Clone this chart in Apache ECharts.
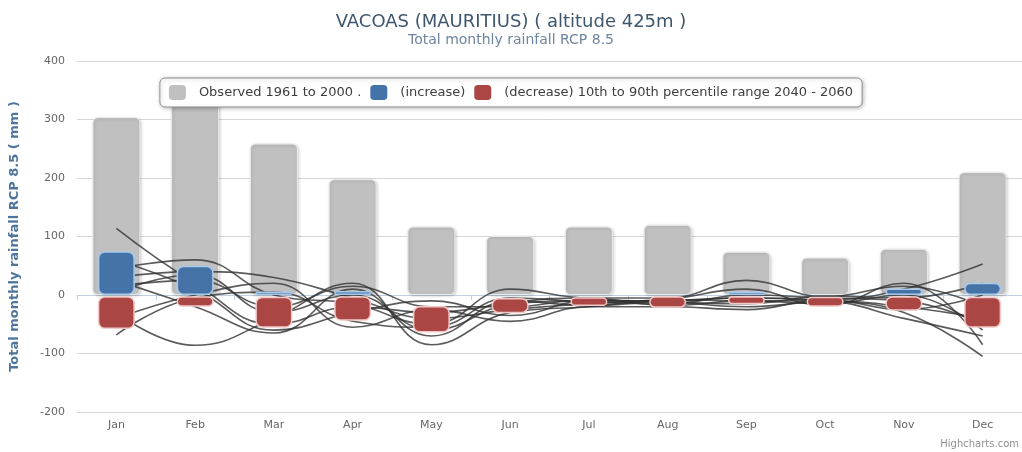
<!DOCTYPE html>
<html>
<head>
<meta charset="utf-8">
<script src="https://cdn.jsdelivr.net/npm/echarts@6/dist/echarts.min.js"></script>
<style>html,body{margin:0;padding:0;background:#fff}#c{width:1022px;height:452px}</style>
</head>
<body>
<div id="c"></div>
<script>
var months = ['Jan','Feb','Mar','Apr','May','Jun','Jul','Aug','Sep','Oct','Nov','Dec'];
var observed = [304, 335, 259, 198, 117, 101, 117, 120, 74, 64, 79, 210];
var incLow  = [0, 0, 0, 0, null, null, null, null, 0, null, 0, 0];
var incHigh = [75, 50, 6, 7, null, null, null, null, 6, null, 11, 21];
var decHigh = [-2, -2, -3, -2, -19, -5, -4, -2, -2, -3, -2, -3];
var decLow  = [-58, -20, -56, -44, -64, -31, -19, -22, -16, -20, -27, -56];
var yTicks = [-200, -100, 0, 100, 200, 300, 400];

var model1  = [114, 20, -50, -20, -30, -15, -10, -10, -5, -10, -30, -105];
var model2  = [-68, -5, 5, -45, -55, -5, -12, -15, 0, -5, -10, -50];
var model3  = [-30, -86, -40, 20, -85, -30, -20, -8, -10, -10, -20, -40];
var model4  = [45, 60, 0, -15, -50, 10, -5, -5, 25, -3, 15, -20];
var model5  = [30, 40, 30, -5, -40, -25, -15, -10, -5, -8, 10, 53];
var model6  = [15, 25, -20, 15, -20, -20, -8, -12, -15, -2, -5, 20];
var model7  = [60, 10, -60, -30, -10, -35, -10, -12, -20, -12, -40, -70];
var model8  = [5, 35, -30, 0, -60, -15, -5, -18, -10, -15, 0, -60];
var model9  = [-40, 0, 20, -55, -25, -45, -20, -20, -25, -8, -25, 0];
var model10 = [25, -20, -65, 10, -70, -10, -18, -8, 10, -18, 20, -85];
var models = [model1, model2, model3, model4, model5, model6, model7, model8, model9, model10];

var FONT = 'DejaVu Sans';
var incBase = incLow.map(function(v){ return v == null ? '-' : v; });
var incRange = incHigh.map(function(v, i){ return v == null ? '-' : v - incLow[i]; });
var decBase = decHigh.slice();
var decRange = decLow.map(function(v, i){ return v - decHigh[i]; });

var series = [
  {
    name: 'Observed 1961 to 2000 .', type: 'bar', xAxisIndex: 0, barWidth: 48, z: 1,
    data: observed,
    itemStyle: { color: '#C0C0C0', borderColor: '#ececec', borderWidth: 1, borderRadius: 5,
      shadowColor: 'rgba(0,0,0,0.18)', shadowBlur: 3, shadowOffsetX: 1, shadowOffsetY: 1 }
  }
];
models.forEach(function(m){
  series.push({
    type: 'line', xAxisIndex: 0, data: m, smooth: 0.45, showSymbol: false, symbol: 'none', z: 2,
    lineStyle: { color: 'rgba(50,50,50,0.8)', width: 1.6 }, silent: true
  });
});
series.push(
  { name: 'incBase', type: 'bar', xAxisIndex: 1, stack: 'inc', barWidth: 37, barGap: '-100%', z: 3,
    data: incBase, itemStyle: { color: 'rgba(0,0,0,0)' } },
  { name: '(increase)', type: 'bar', xAxisIndex: 1, stack: 'inc', barWidth: 37, barGap: '-100%', z: 3,
    data: incRange, itemStyle: { color: '#4572A7', borderColor: '#a9c9ea', borderWidth: 1.5, borderRadius: 6 } },
  { name: 'decBase', type: 'bar', xAxisIndex: 1, stack: 'dec', barWidth: 37, barGap: '-100%', z: 3,
    data: decBase, itemStyle: { color: 'rgba(0,0,0,0)' } },
  { name: '(decrease) 10th to 90th percentile range 2040 - 2060', type: 'bar', xAxisIndex: 1, stack: 'dec', barWidth: 37, barGap: '-100%', z: 3,
    data: decRange, itemStyle: { color: '#AA4643', borderColor: '#f2c9c8', borderWidth: 1.5, borderRadius: 6 } }
);

var chart = echarts.init(document.getElementById('c'), null, { renderer: 'canvas' });
chart.setOption({
  animation: false,
  backgroundColor: '#ffffff',
  textStyle: { fontFamily: FONT },
  title: {
    text: 'VACOAS (MAURITIUS) ( altitude 425m )',
    subtext: 'Total monthly rainfall RCP 8.5',
    left: 'center', top: 8, itemGap: 2,
    textStyle: { color: '#3E576F', fontSize: 18, fontWeight: 'normal', fontFamily: FONT },
    subtextStyle: { color: '#6D869F', fontSize: 14, fontFamily: FONT }
  },
  legend: {
    data: [
      { name: 'Observed 1961 to 2000 .', itemStyle: { color: '#C0C0C0', borderWidth: 0 } },
      { name: '(increase)', itemStyle: { color: '#4572A7', borderWidth: 0 } },
      { name: '(decrease) 10th to 90th percentile range 2040 - 2060', itemStyle: { color: '#AA4643', borderWidth: 0 } }
    ],
    left: 'center', top: 78, itemWidth: 17, itemHeight: 15, itemGap: 9,
    padding: [7, 9, 7, 9],
    backgroundColor: '#ffffff', borderColor: '#909090', borderWidth: 1, borderRadius: 5,
    shadowColor: 'rgba(0,0,0,0.25)', shadowBlur: 4, shadowOffsetX: 1, shadowOffsetY: 1,
    icon: 'roundRect',
    textStyle: { color: '#3d3d3d', fontSize: 13, fontFamily: FONT, padding: [0, 0, 0, 8] }
  },
  grid: { left: 73, top: 61, width: 950, height: 351, containLabel: false },
  xAxis: [
    { type: 'category', data: months, boundaryGap: true,
      axisLine: { show: true, lineStyle: { color: '#C0D0E0', width: 1 } },
      axisTick: { show: true, length: 5, lineStyle: { color: '#C0D0E0' } },
      axisLabel: { color: '#666666', fontSize: 11, margin: 8, fontFamily: FONT },
      splitLine: { show: false } },
    { type: 'category', data: months, show: false, boundaryGap: true }
  ],
  yAxis: {
    type: 'value', min: yTicks[0], max: yTicks[yTicks.length - 1], interval: 100,
    name: 'Total monthly rainfall RCP 8.5 ( mm )', nameLocation: 'middle', nameGap: 56,
    nameTextStyle: { color: '#4D759E', fontSize: 13, fontWeight: 'bold', fontFamily: FONT },
    axisLine: { show: false }, axisTick: { show: false },
    axisLabel: { color: '#666666', fontSize: 11, margin: 12, fontFamily: FONT },
    splitLine: { lineStyle: { color: '#d6d6d6', width: 1 } }
  },
  graphic: [{
    type: 'text', right: 3, bottom: 3,
    style: { text: 'Highcharts.com', fill: '#909090', font: '10px ' + FONT }
  }],
  series: series
});
</script>
</body>
</html>
